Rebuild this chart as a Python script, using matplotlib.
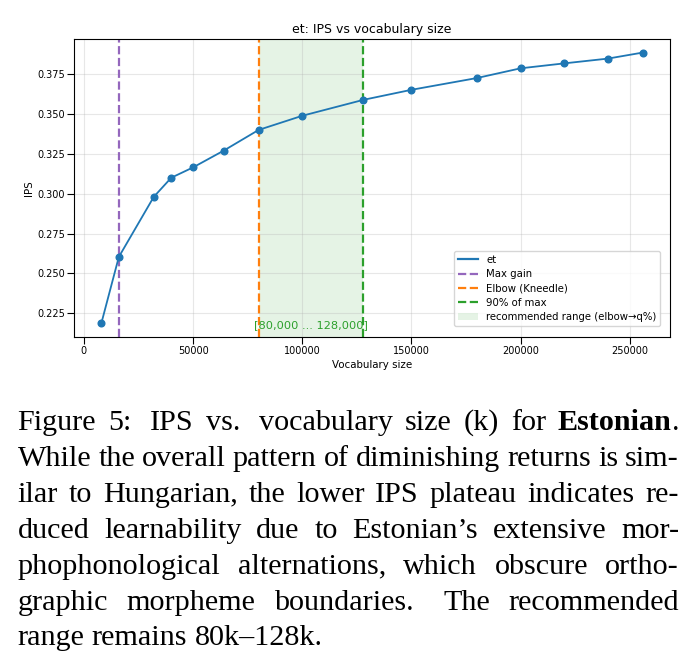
#!/usr/bin/env python3
"""IPS vs vocabulary size for Estonian, with the figure caption underneath."""
import numpy as np
import matplotlib
matplotlib.use('Agg')
import matplotlib.pyplot as plt
from matplotlib.patches import Patch
from matplotlib.lines import Line2D

W, H = 692, 669

# ── data ──
vocab_sizes = [8000, 16000, 32000, 40000, 50000, 64000, 80000, 100000,
               128000, 150000, 180000, 200000, 220000, 240000, 256000]
ips = [0.2188, 0.2604, 0.2981, 0.3101, 0.3166, 0.3271, 0.3401, 0.3490,
       0.3590, 0.3653, 0.3727, 0.3788, 0.3819, 0.3849, 0.3887]
max_gain_k = 16000
elbow_k = 80000
q90_k = 128000
lang = 'et'

caption_lines = [
    [('Figure', 'normal'), ('5:', 'normal'), ('IPS', 'normal'), ('vs.', 'normal'),
     ('vocabulary', 'normal'), ('size', 'normal'), ('(k)', 'normal'), ('for', 'normal'),
     ('Estonian', 'bold'), ('+.', 'normal')],
    'While the overall pattern of diminishing returns is sim-',
    'ilar to Hungarian, the lower IPS plateau indicates re-',
    'duced learnability due to Estonian\u2019s extensive mor-',
    'phophonological alternations, which obscure ortho-',
    'graphic morpheme boundaries.  The recommended',
    'range remains 80k\u2013128k.',
]

C_LINE = '#1f77b4'
C_MAX = '#9467bd'
C_ELBOW = '#ff7f0e'
C_Q = '#2ca02c'

fig = plt.figure(figsize=(W / 100, H / 100), dpi=100)
fig.patch.set_facecolor('white')

# axes box in pixels: left 74, right 670, top 39, bottom 337
ax = fig.add_axes([74.3 / W, 1 - 336.7 / H, (670 - 74.3) / W, (336.7 - 39) / H])

ax.plot(vocab_sizes, ips, '-o', color=C_LINE, lw=1.3, ms=4.8, label=lang, zorder=3)
ax.axvline(max_gain_k, color=C_MAX, ls='--', lw=1.6, label='Max gain')
ax.axvline(elbow_k, color=C_ELBOW, ls='--', lw=1.6, label='Elbow (Kneedle)')
ax.axvline(q90_k, color=C_Q, ls='--', lw=1.6, label='90% of max')
ax.axvspan(elbow_k, q90_k, color=C_Q, alpha=0.12, lw=0,
           label='recommended range (elbow\u2192q%)')
ax.text((elbow_k + q90_k) / 2, 0.04, f'[{elbow_k:,} ... {q90_k:,}]',
        transform=ax.get_xaxis_transform(), ha='center', va='center',
        color=C_Q, fontsize=8.2)

ax.set_title(f'{lang}: IPS vs vocabulary size', fontsize=9, pad=4)
ax.set_xlabel('Vocabulary size', fontsize=7.4, labelpad=3)
ax.set_ylabel('IPS', fontsize=7.4, labelpad=2)
ax.tick_params(labelsize=7, length=5, width=0.8, pad=1.8)
ax.grid(True, alpha=0.3)
ax.ticklabel_format(axis='x', style='plain')

handles = [
    Line2D([], [], color=C_LINE, lw=1.6),
    Line2D([], [], color=C_MAX, ls='--', lw=1.6),
    Line2D([], [], color=C_ELBOW, ls='--', lw=1.6),
    Line2D([], [], color=C_Q, ls='--', lw=1.6),
    Patch(facecolor=C_Q, alpha=0.12),
]
labels = [lang, 'Max gain', 'Elbow (Kneedle)', '90% of max',
          'recommended range (elbow\u2192q%)']
ax.legend(handles, labels, loc='lower right', bbox_to_anchor=(0.984, 0.036),
          borderaxespad=0, fontsize=7.3, framealpha=0.8, labelspacing=0.42)

# ── caption, justified between x=17.5 and x=679 px ──
CAP_FS = 21.7
CAP_FAMILY = 'Liberation Serif'
x0, x1 = 17.5, 679
base0, step = 430, 35.9

fig.canvas.draw()
rend = fig.canvas.get_renderer()


def text_width(s, weight):
    t = fig.text(0, 0, s, fontsize=CAP_FS, family=CAP_FAMILY, fontweight=weight)
    w = t.get_window_extent(rend).width
    t.remove()
    return w


for i, line in enumerate(caption_lines):
    if isinstance(line, str):
        tokens = [(w, 'normal') for w in line.split()]
    else:
        tokens = list(line)
    y = 1 - (base0 + i * step) / H
    last = i == len(caption_lines) - 1
    words = []
    for s, wt in tokens:
        glue = s.startswith('+')
        s = s.lstrip('+')
        words.append((s, wt, glue, text_width(s, wt)))
    space = text_width('a a', 'normal') - text_width('aa', 'normal')
    gaps = []
    for j in range(1, len(words)):
        if words[j][2]:
            gaps.append(0.0)
        elif words[j - 1][0].endswith(('.', ':')):
            gaps.append(1.6)
        else:
            gaps.append(1.0)
    total_w = sum(w[3] for w in words)
    if last:
        unit = space
    else:
        unit = (x1 - x0 - total_w) / sum(gaps)
    x = x0
    for j, (s, wt, glue, w) in enumerate(words):
        if j > 0:
            x += gaps[j - 1] * unit
        fig.text(x / W, y, s, fontsize=CAP_FS, family=CAP_FAMILY,
                 fontweight=wt, ha='left', va='baseline', color='black')
        x += w

fig.savefig('out.png', dpi=100)
plt.close(fig)
print('saved')
